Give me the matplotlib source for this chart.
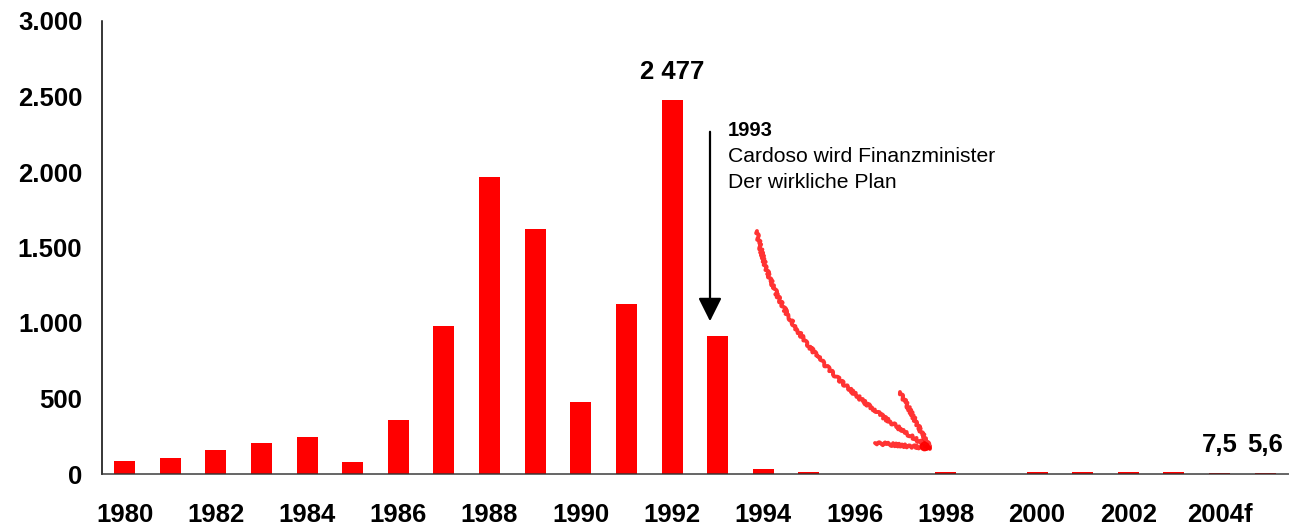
import numpy as np
import matplotlib
matplotlib.use('Agg')
import matplotlib.pyplot as plt
from matplotlib.ticker import FuncFormatter

# Inflation (%), 1980 - 2005
years = [str(y) for y in range(1980, 2006)]
values = [88, 106, 157, 207, 243, 79, 358, 980, 1967, 1623, 477, 1126, 2477, 914,
          33, 14, 3, 2, 13, 3, 13, 13, 13, 12, 7.5, 5.6]
tick_pos = list(range(0, 25, 2))
tick_labels = ['1980', '1982', '1984', '1986', '1988', '1990', '1992',
               '1994', '1996', '1998', '2000', '2002', '2004f']
labelled = {12: '2 477', 24: '7,5', 25: '5,6'}

plt.rcParams['font.family'] = ['Liberation Sans', 'DejaVu Sans']

fig = plt.figure(figsize=(12.93, 5.25), dpi=100)
ax = fig.add_axes([101.7 / 1293, 51 / 525, (1288 - 101.7) / 1293, (474 - 21) / 525])

x = np.arange(len(years))
ax.bar(x, values, width=0.46, color='#ff0000', zorder=1)

ax.set_xlim(-0.5, len(years) - 0.5)
ax.set_ylim(0, 3000)
ax.set_yticks(range(0, 3001, 500))
ax.yaxis.set_major_formatter(FuncFormatter(lambda v, p: f'{v:,.0f}'.replace(',', '.')))
ax.set_xticks(tick_pos)
ax.set_xticklabels(tick_labels)
ax.tick_params(axis='x', length=0, pad=21, labelsize=18.5)
ax.tick_params(axis='y', length=0, pad=14, labelsize=18.5)
for lab in ax.get_xticklabels() + ax.get_yticklabels():
    lab.set_fontweight('bold')

for s in ['top', 'right']:
    ax.spines[s].set_visible(False)
ax.spines['left'].set_linewidth(1.1)
ax.spines['left'].set_color('black')
ax.spines['bottom'].set_linewidth(1.4)
ax.spines['bottom'].set_color((0.2, 0.2, 0.2, 0.75))

# value labels over selected bars
for i, txt in labelled.items():
    ax.annotate(txt, (x[i], values[i]), xytext=(0, 20), textcoords='offset points',
                ha='center', va='center', fontsize=18.5, fontweight='bold')

# overlay in pixel coords for the annotations
ov = fig.add_axes([0, 0, 1, 1], facecolor='none')
ov.set_xlim(0, 1293)
ov.set_ylim(525, 0)
ov.axis('off')

# black arrow + text for 1993
ov.annotate('', xy=(710, 324), xytext=(710, 129),
            arrowprops=dict(arrowstyle='-|>,head_length=1.1,head_width=0.55',
                            color='black', lw=1.6, mutation_scale=13))
ov.text(728, 130, '1993', fontsize=14.5, fontweight='bold', va='center', ha='left')
ov.text(728, 156, 'Cardoso wird Finanzminister', fontsize=15.2, va='center', ha='left')
ov.text(728, 182, 'Der wirkliche Plan', fontsize=15.2, va='center', ha='left')

# hand drawn red arrow
t = np.linspace(0, 1, 60)
p0, p1, p2 = np.array([757, 231]), np.array([778, 357]), np.array([930, 448])
curve = ((1 - t) ** 2)[:, None] * p0 + (2 * (1 - t) * t)[:, None] * p1 + (t ** 2)[:, None] * p2
sk = dict(color='#ff0000', lw=2.8, alpha=0.8, solid_capstyle='round')
l1, = ov.plot(curve[:, 0], curve[:, 1], **sk)
l2, = ov.plot([900, 930], [392, 448], **sk)
l3, = ov.plot([875, 930], [443, 448], **sk)
for ln in (l1, l2, l3):
    ln.set_sketch_params(scale=1.5, length=5, randomness=3)
ov.plot([924], [446], 'o', color='#ff0000', ms=6, alpha=0.9)

fig.savefig('out.png', dpi=100)
